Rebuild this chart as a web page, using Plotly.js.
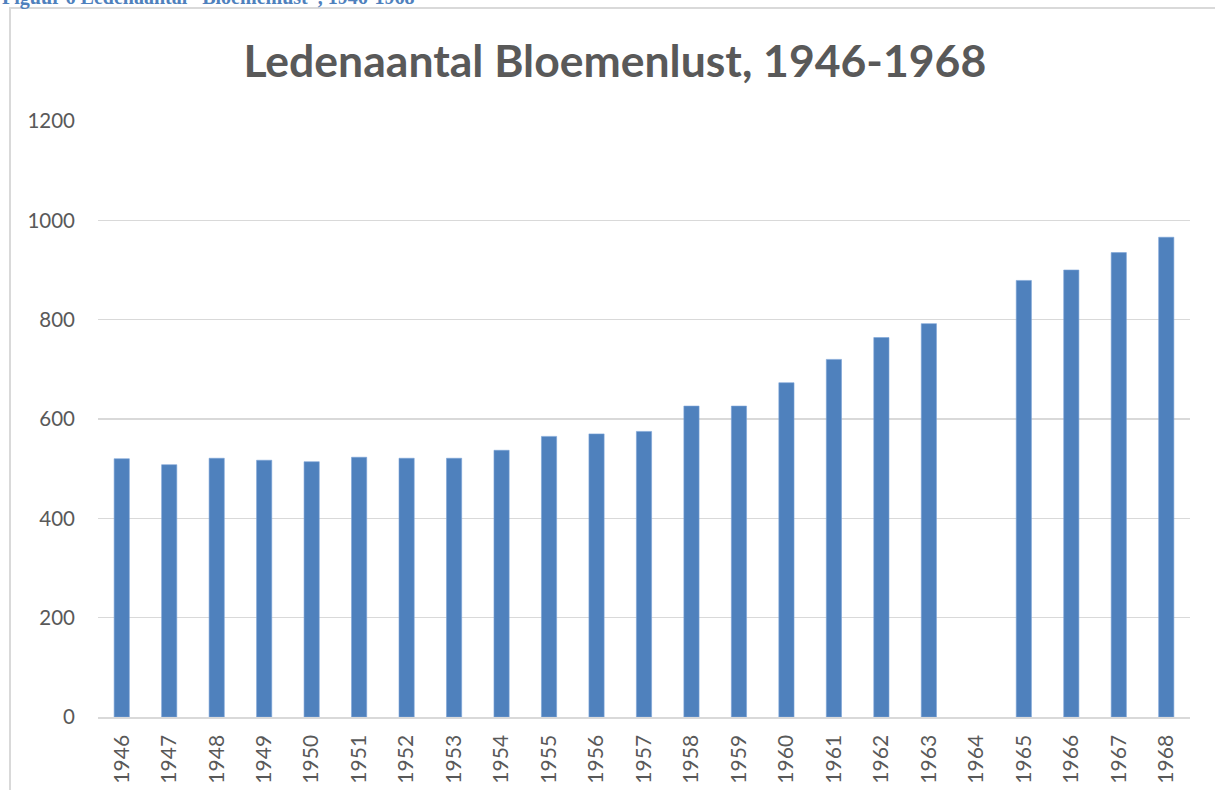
<!DOCTYPE html>
<html>
<head>
<meta charset="utf-8">
<script src="https://cdn.plot.ly/plotly-3.0.1.min.js"></script>
<style>html,body{margin:0;padding:0;background:#fff;}#chart{width:1215px;height:790px;}</style>
</head>
<body>
<div id="chart"></div>
<script>
const years = ["1946","1947","1948","1949","1950","1951","1952","1953","1954","1955","1956","1957","1958","1959","1960","1961","1962","1963","1964","1965","1966","1967","1968"];
const members = [520,508,521,517,514,523,521,521,537,565,570,575,626,626,673,720,764,792,null,879,900,935,966];
const yTicks = [0,200,400,600,800,1000,1200];
const chartTitle = "Ledenaantal Bloemenlust, 1946-1968";
const caption = "Figuur 6 Ledenaantal \u201cBloemenlust\u201d, 1946-1968";

const trace = {
  type: "bar",
  x: years,
  y: members,
  marker: {color: "#4F81BD", line: {color: "#7aa3d6", width: 0.6}},
  hoverinfo: "x+y"
};

const layout = {
  width: 1215, height: 790,
  paper_bgcolor: "#ffffff", plot_bgcolor: "#ffffff",
  margin: {l: 98, r: 25, t: 121, b: 73, pad: 0},
  bargap: 0.68,
  showlegend: false,
  title: {
    text: chartTitle,
    font: {family: "Lato, 'Open Sans', sans-serif", size: 44.5, color: "#595959", weight: 700},
    xref: "container", x: 0.506, xanchor: "center",
    yref: "container", y: 0.922, yanchor: "middle"
  },
  xaxis: {
    type: "category",
    tickangle: -90,
    tickfont: {family: "Lato, sans-serif", size: 21, color: "#595959"},
    showgrid: false,
    showline: true, linecolor: "#d9d9d9", linewidth: 1.5,
    ticks: "", ticklabelstandoff: 8,
    fixedrange: true
  },
  yaxis: {
    range: [0, 1200],
    tickvals: yTicks,
    ticktext: yTicks.map(String),
    tickfont: {family: "Lato, sans-serif", size: 20.5, color: "#595959"},
    showgrid: true, gridcolor: "#d9d9d9", gridwidth: 1.5,
    zeroline: false, showline: false,
    ticks: "", ticklabelstandoff: 22,
    fixedrange: true
  },
  shapes: [{
    type: "rect", xref: "paper", yref: "paper",
    x0: -0.0806, x1: 1.03, y0: -0.15, y1: 1.1896,
    line: {color: "#d9d9d9", width: 2}, fillcolor: "rgba(0,0,0,0)", layer: "below"
  }],
  annotations: [{
    text: "<b>" + caption + "</b>",
    xref: "paper", yref: "paper",
    x: -0.0897, xanchor: "left",
    y: 1.2064, yanchor: "middle",
    showarrow: false,
    font: {family: "'Liberation Serif', 'DejaVu Serif', serif", size: 20, color: "#4F81BD"}
  }]
};

Plotly.newPlot("chart", [trace], layout, {displayModeBar: false, staticPlot: true});
</script>
</body>
</html>
